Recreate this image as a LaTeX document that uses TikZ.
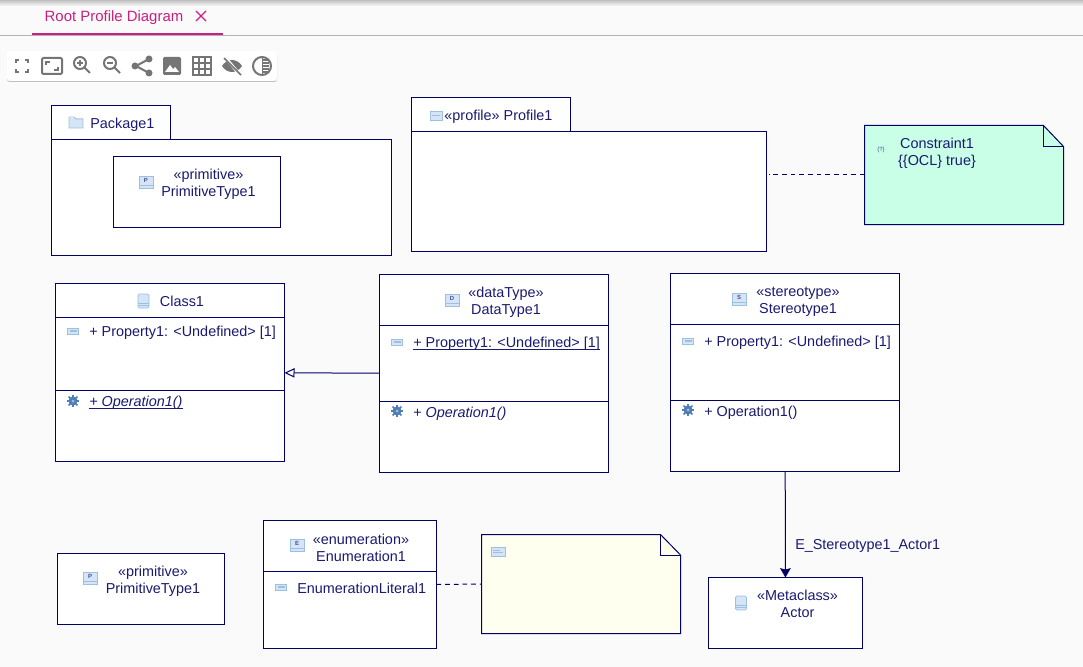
\documentclass[tikz,border=0pt]{standalone}
\usepackage{fontspec}
\setmainfont{Liberation Sans}
\usetikzlibrary{arrows.meta}
\definecolor{umlline}{HTML}{000066}
\definecolor{umltext}{HTML}{1A1A70}
\definecolor{pagebg}{HTML}{FAFAFA}
\definecolor{tabpink}{HTML}{C9207F}
\definecolor{toolgrey}{HTML}{757575}
\definecolor{notegreen}{HTML}{C8FFE6}
\definecolor{noteyellow}{HTML}{FFFFF0}
\definecolor{iconfill}{HTML}{D5E5F5}
\definecolor{icondraw}{HTML}{9DBFE0}
\definecolor{gearblue}{HTML}{4F7FB5}
\tikzset{
	wh/.style 2 args={minimum width=#1*0.75pt,minimum height=#2*0.75pt},
	umlbox/.style={draw=umlline,fill=white,line width=0.75pt,inner sep=0pt,outer sep=0pt,anchor=north west},
	notebox/.style={inner sep=0pt,outer sep=0pt,anchor=north west},
	txt/.style={text=umltext,inner sep=0pt,align=center,yshift=-1.2pt,font=\fontsize{10.8pt}{12.75pt}\selectfont},
	ltxt/.style={txt,anchor=west},
	umlline/.style={draw=umlline,line width=0.75pt},
	tool/.style={draw=toolgrey,line width=1.5pt},
	tiny/.style={text=umlline!70,inner sep=0pt,font=\fontsize{4.5pt}{5pt}\selectfont},
	notedash/.style={umlline,dash pattern=on 3.5pt off 3pt}
}
% small icons
\newcommand{\typeicon}[3]{%
	\draw[draw=icondraw,fill=iconfill,line width=0.5pt] (#2)+(-7,-6) rectangle +(7,6);
	\draw[draw=icondraw,line width=0.5pt] (#2)+(-7,3) -- +(7,3);
	\node[tiny] (letter#1) at (#2) [yshift=0.8pt] {\textbf{#3}};}
\newcommand{\classicon}[1]{%
	\draw[draw=icondraw,fill=iconfill,line width=0.5pt,rounded corners=1pt] (#1)+(-5.5,-7) rectangle +(5.5,7);
	\draw[draw=icondraw,line width=0.5pt] (#1)+(-5.5,2) -- +(5.5,2) (#1)+(-5.5,4.5) -- +(5.5,4.5);}
\newcommand{\propicon}[1]{%
	\draw[draw=icondraw,fill=iconfill,line width=0.6pt] (#1)+(-5.5,-3) rectangle +(5.5,3);
	\draw[draw=icondraw,line width=0.8pt] (#1)+(-3.5,0) -- +(3.5,0);}
\newcommand{\gearicon}[1]{%
	\fill[gearblue] (#1) circle (4.5);
	\foreach \a in {0,45,...,315} {\draw[gearblue,line width=1.2pt] (#1)+(\a:3.5) -- +(\a:6.3);}
	\fill[gearblue!50!white] (#1) circle (1.5);}
\newcommand{\ulrow}[1]{\vphantom{Pp(}\underline{\smash{#1}}}
\begin{document}
\begin{tikzpicture}[x=0.75pt,y=-0.75pt,>=stealth]
	\useasboundingbox (0,0) rectangle (1083,667);
	\fill[pagebg] (0,0) rectangle (1083,667);
	\shade[top color=black!25,bottom color=pagebg] (0,0) rectangle (1083,6);
	%Tab
	\node[text=tabpink,inner sep=0pt,yshift=-1.2pt,font=\fontsize{11.2pt}{12pt}\selectfont] (tabTitle) at (114,16) {Root Profile Diagram};
	\draw[tabpink,line width=1pt] (196,11) -- (206,21) (206,11) -- (196,21);
	\draw[black!30,line width=0.75pt] (0,35.5) -- (1083,35.5);
	\draw[tabpink,line width=1.5pt] (32,34) -- (223,34);
	%Toolbar
	\fill[black!25,rounded corners=2pt] (7,52.5) rectangle (277,82);
	\fill[white,rounded corners=2pt] (7,51) rectangle (277,81);
	%Toolbar 1,2
	\draw[tool] (16,63)--(16,60)--(19,60) (25,60)--(28,60)--(28,63) (28,69)--(28,72)--(25,72) (19,72)--(16,72)--(16,69);
	\draw[tool,rounded corners=1pt] (42,58) rectangle (62,74);
	\draw[tool] (46,65)--(46,62)--(50,62) (54,70)--(58,70)--(58,67);
	%Toolbar 3,4
	\foreach \cx in {80,110} {
		\draw[tool] (\cx,63) circle (6);
		\draw[tool] (\cx+4.5,67.5) -- (\cx+10,73);
		\draw[toolgrey,line width=0.8pt] (\cx-3,63) -- (\cx+3,63);
	}
	\draw[toolgrey,line width=0.8pt] (80,60) -- (80,66);
	%Toolbar 5
	\draw[tool] (149,59) -- (136,66) -- (149,73);
	\fill[toolgrey] (149,59) circle (3.5) (135,66) circle (3.5) (149,73) circle (3.5);
	%Toolbar 6
	\fill[toolgrey,rounded corners=1pt] (163,57) rectangle (181,75);
	\fill[white] (165,72) -- (170,65) -- (173,69) -- (175,67) -- (179,72) -- cycle;
	%Toolbar 7
	\draw[tool] (193,57) rectangle (211,75);
	\draw[tool] (199,57) -- (199,75) (205,57) -- (205,75) (193,63) -- (211,63) (193,69) -- (211,69);
	%Toolbar 8
	\fill[toolgrey] (222,66) .. controls (227,58) and (237,58) .. (242,66) .. controls (237,74) and (227,74) .. (222,66) -- cycle;
	\draw[white,line width=2.2pt] (225,57) -- (240,75);
	\draw[toolgrey,line width=1.2pt] (224,58) -- (241,75);
	%Toolbar 9
	\draw[tool] (262,66) circle (9);
	\fill[toolgrey] (262,57) rectangle (263,75);
	\foreach \sy in {60,63,...,72} {\draw[toolgrey,line width=1pt] (262,\sy) -- (269,\sy);}
	%Package1
	\node[umlbox,wh={119}{34}] (packageTab) at (51.5,105.5) {};
	\node[umlbox,wh={340}{116}] (packageBody) at (51.5,139.5) {};
	\fill[iconfill] (69,118) rectangle (83,128);
	\draw[draw=icondraw,line width=0.6pt] (69,128) -- (69,117) -- (74,117) -- (76,119) -- (83,119) -- (83,128) -- cycle;
	\node[ltxt] (packageName) at (90,123) {Package1};
	%Primitive 1
	\node[umlbox,wh={167}{71}] (primitiveIn) at (113.5,156.5) {};
	\typeicon{PrimA}{146,182}{P}
	\node[txt] (primitiveInName) at (208.5,182.5) {«primitive»\\PrimitiveType1};
	%Profile1
	\node[umlbox,wh={159}{34}] (profileTab) at (411.5,97.5) {};
	\node[umlbox,wh={355}{120}] (profileBody) at (411.5,131.5) {};
	\draw[draw=icondraw,fill=iconfill,line width=0.5pt] (430,111) rectangle (442,120);
	\draw[draw=icondraw,line width=0.5pt] (432,115.5) -- (440,115.5);
	\node[txt] (profileName) at (498.5,115) {«profile» Profile1};
	%Constraint1
	\node[notebox,wh={199}{99}] (constraintNote) at (864.5,125.5) {};
	\draw[umlline,fill=notegreen] (constraintNote.north west) -- (1043.5,125.5) -- (constraintNote.east |- 0,146.5) -- (constraintNote.south east) -- (constraintNote.south west) -- cycle;
	\draw[umlline] (1043.5,125.5) -- (1043.5,146.5) -- (constraintNote.east |- 0,146.5);
	\node[tiny] (constraintIcon) at (881,150) {\{?\}};
	\node[txt] (constraintName) at (937,151.5) {Constraint1\\\{\{OCL\} true\}};
	\draw[notedash,shorten >=1.5pt] (constraintNote.west) -- (profileBody.east |- constraintNote.west);
	%Class1
	\node[umlbox,wh={229}{178}] (class) at (55.5,283.5) {};
	\draw[umlline] (class.west |- 0,317.5) -- (class.east |- 0,317.5);
	\draw[umlline] (class.west |- 0,390.5) -- (class.east |- 0,390.5);
	\classicon{143.5,301}
	\node[txt] (className) at (182,300) {Class1};
	\propicon{73,331}
	\node[ltxt] (classProp) at (89,331) {+ Property1: <Undefined> [1]};
	\gearicon{73,401}
	\node[ltxt] (classOp) at (89,401) {\ulrow{\textit{+ Operation1()}}};
	%DataType1
	\node[umlbox,wh={229}{198}] (dataType) at (379.5,274.5) {};
	\draw[umlline] (dataType.west |- 0,325.5) -- (dataType.east |- 0,325.5);
	\draw[umlline] (dataType.west |- 0,401.5) -- (dataType.east |- 0,401.5);
	\typeicon{Data}{452,300}{D}
	\node[txt] (dataTypeName) at (506,300.5) {«dataType»\\DataType1};
	\propicon{397,342}
	\node[ltxt] (dataTypeProp) at (413,342) {\ulrow{+ Property1: <Undefined> [1]}};
	\gearicon{397,411}
	\node[ltxt] (dataTypeOp) at (413,412) {+ \textit{Operation1()}};
	%Stereotype1
	\node[umlbox,wh={229}{198}] (stereotype) at (670.5,273.5) {};
	\draw[umlline] (stereotype.west |- 0,324.5) -- (stereotype.east |- 0,324.5);
	\draw[umlline] (stereotype.west |- 0,400.5) -- (stereotype.east |- 0,400.5);
	\typeicon{Ster}{739,299}{S}
	\node[txt] (stereotypeName) at (798,300.5) {«stereotype»\\Stereotype1};
	\propicon{688,341}
	\node[ltxt] (stereotypeProp) at (704,341) {+ Property1: <Undefined> [1]};
	\gearicon{688,410}
	\node[ltxt] (stereotypeOp) at (704,411) {+ Operation1()};
	%Primitive 2
	\node[umlbox,wh={167}{71}] (primitiveOut) at (57.5,553.5) {};
	\typeicon{PrimB}{90,578}{P}
	\node[txt] (primitiveOutName) at (153,579.5) {«primitive»\\PrimitiveType1};
	%Enumeration1
	\node[umlbox,wh={173}{128}] (enumeration) at (263.5,520.5) {};
	\draw[umlline] (enumeration.west |- 0,571.5) -- (enumeration.east |- 0,571.5);
	\typeicon{Enum}{297,545}{E}
	\node[txt] (enumerationName) at (361,546) {«enumeration»\\Enumeration1};
	\propicon{281,587}
	\node[ltxt] (enumerationLit) at (297,587) {EnumerationLiteral1};
	%Note
	\node[notebox,wh={199}{99}] (emptyNote) at (481.5,534.5) {};
	\draw[umlline,fill=noteyellow] (emptyNote.north west) -- (660.5,534.5) -- (emptyNote.east |- 0,555) -- (emptyNote.south east) -- (emptyNote.south west) -- cycle;
	\draw[umlline] (660.5,534.5) -- (660.5,555) -- (emptyNote.east |- 0,555);
	\draw[draw=icondraw,fill=iconfill,line width=0.5pt] (491,547) rectangle (505,556);
	\draw[draw=icondraw,line width=0.5pt] (493,550) -- (500,550) (493,552.5) -- (503,552.5);
	\draw[notedash] (enumeration.east) -- (emptyNote.west);
	%Actor
	\node[umlbox,wh={154}{71}] (actor) at (708.5,577.5) {};
	\classicon{741,603}
	\node[txt] (actorName) at (797.5,602.5) {«Metaclass»\\Actor};
	%Connectors
	\draw[umlline,-{Triangle[open,length=7.5pt,width=7pt]}] (dataType) -- (class);
	\draw[umlline,->,>={Stealth[length=7pt,width=8pt,inset=1pt]}] (stereotype) -- (actor);
	\node[ltxt] (associationName) at (795,544) {E\_Stereotype1\_Actor1};
\end{tikzpicture}
\end{document}
